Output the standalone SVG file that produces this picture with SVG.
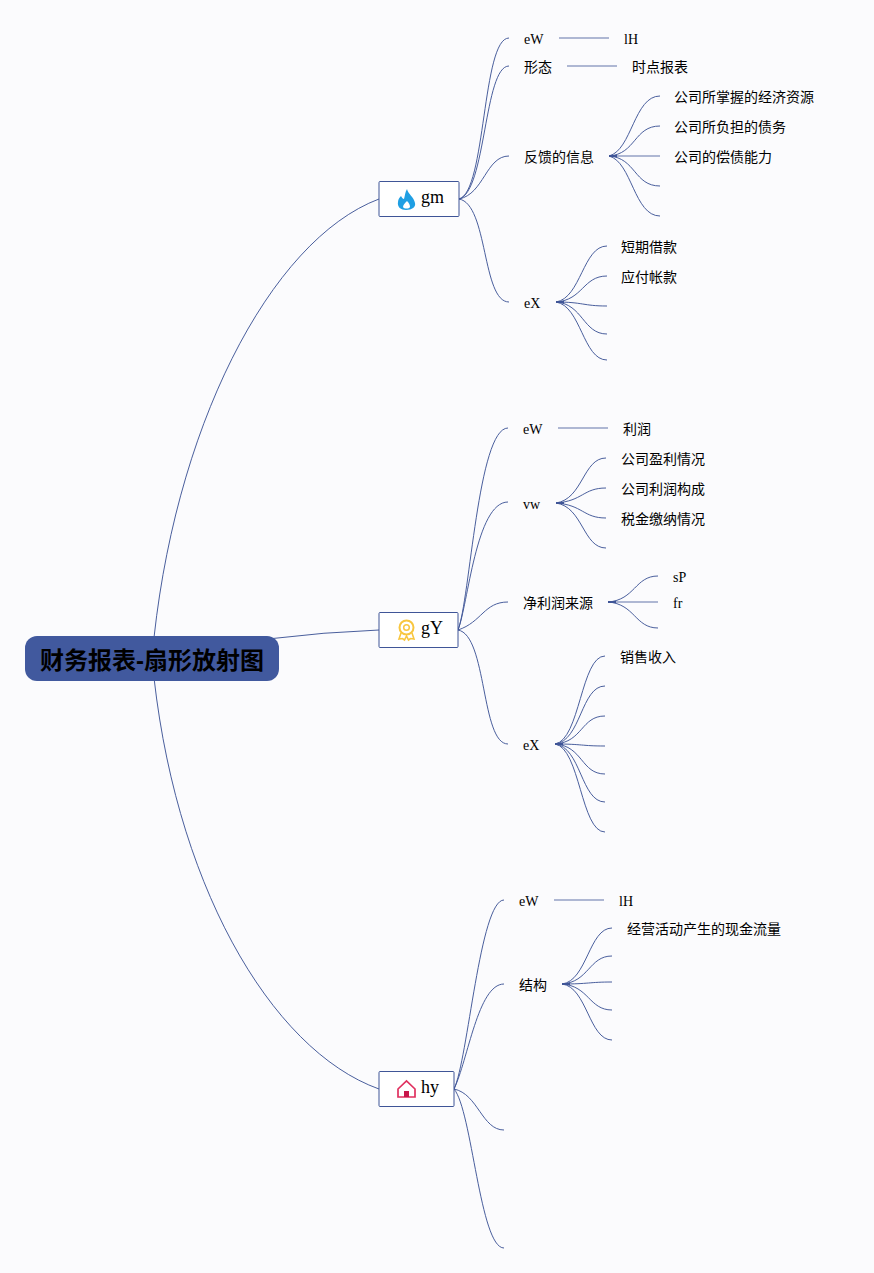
<svg xmlns="http://www.w3.org/2000/svg" width="874" height="1273" viewBox="0 0 874 1273">
<style>
.c{fill:none;stroke:#3f5597;stroke-width:.95}
.s{fill:none;stroke:#3f5597;stroke-width:1.500;stroke-opacity:.55}
.t{fill:none;stroke:#3f5597;stroke-width:2}
.n{fill:#fff;stroke:#3f5597;stroke-width:1}
text{font-family:"Liberation Serif","Noto Sans CJK SC",serif;font-size:14px;fill:#000}
.b{font-size:18px}
.r{font-family:"Liberation Sans","Noto Sans CJK SC",sans-serif;font-size:24px;font-weight:bold}
</style>
<rect width="874" height="1273" fill="#fbfbfd"/>
<g id="connectors">
<path class="c" d="M152 658C172 430 270 240 379 199"/>
<path class="c" d="M152 658C172 880 270 1050 379 1089"/>
<path class="c" d="M152 658Q270 634 379 630"/>
<path class="c" d="M459 199C486 192 482 38 509 38"/>
<path class="c" d="M459 199C486 192 484 66 509 66"/>
<path class="c" d="M459 199C484 194 486 156 509 156"/>
<path class="c" d="M459 199C488 204 482 302 509 302"/>
<path class="s" d="M559 38H609"/><path class="s" d="M567 66H617"/>
<path class="c" d="M609 156C632 150 634 96 660 96"/>
<path class="c" d="M609 156C636 154 634 126 660 126"/>
<path class="s" d="M609 156H660"/>
<path class="c" d="M609 156C636 158 634 186 660 186"/>
<path class="c" d="M609 156C632 162 634 216 660 216"/>
<path class="t" d="M609 156H617"/>
<path class="c" d="M556 302C581 298 583 246 607 246"/>
<path class="c" d="M556 302C583 300 583 276 607 276"/>
<path class="c" d="M556 302C583 302 583 306 607 306"/>
<path class="c" d="M556 302C583 304 583 334 607 334"/>
<path class="c" d="M556 302C581 306 583 360 607 360"/>
<path class="t" d="M556 302H564"/>
<path class="c" d="M458 630C470 600 478 428 508 428"/>
<path class="c" d="M458 630C468 605 476 502 508 502"/>
<path class="c" d="M458 630C482 622 484 602 508 602"/>
<path class="c" d="M458 630C487 635 481 744 508 744"/>
<path class="s" d="M558 428H608"/>
<path class="c" d="M556 503C583 499 583 458 606 458"/>
<path class="c" d="M556 503C583 501 583 488 606 488"/>
<path class="c" d="M556 503C583 505 583 518 606 518"/>
<path class="c" d="M556 503C583 507 583 548 606 548"/>
<path class="t" d="M556 503H564"/>
<path class="c" d="M608 602C635 600 635 576 658 576"/>
<path class="s" d="M608 602H658"/>
<path class="c" d="M608 602C635 604 635 628 658 628"/>
<path class="t" d="M608 602H616"/>
<path class="c" d="M555 744C580 740 581 656 605 656"/>
<path class="c" d="M555 744C581 741 581 686 605 686"/>
<path class="c" d="M555 744C583 742 581 716 605 716"/>
<path class="c" d="M555 744C583 744 581 746 605 746"/>
<path class="c" d="M555 744C583 746 581 774 605 774"/>
<path class="c" d="M555 744C581 747 581 802 605 802"/>
<path class="c" d="M555 744C580 748 581 832 605 832"/>
<path class="t" d="M555 744H563"/>
<path class="c" d="M454 1089C468 1060 480 900 504 900"/>
<path class="c" d="M454 1089C468 1060 478 984 504 984"/>
<path class="c" d="M454 1089C478 1094 482 1130 504 1130"/>
<path class="c" d="M454 1089C472 1110 480 1248 504 1248"/>
<path class="s" d="M554 900H604"/>
<path class="c" d="M562 984C587 981 589 928 612 928"/>
<path class="c" d="M562 984C589 982 589 956 612 956"/>
<path class="c" d="M562 984C589 984 589 982 612 982"/>
<path class="c" d="M562 984C589 986 589 1010 612 1010"/>
<path class="c" d="M562 984C587 987 589 1040 612 1040"/>
<path class="t" d="M562 984H570"/>
</g>
<g id="root"><rect x="25" y="636" width="254" height="45" rx="12" fill="#41599e"/><text class="r" x="152" y="669" text-anchor="middle">财务报表-扇形放射图</text></g>
<g id="gm"><rect class="n" x="379" y="181.500" width="80" height="35" rx="1"/>
<path d="M407 189C408 194 414 197 415 203C416 207 412 210 406 210C401 210 397 207 398 202C398 199 400 197 401 196C402 198 403 199 404 199C405 196 405 192 407 189Z" fill="#1f9fe3"/><path d="M407 201C409 203 410 205 410 207C409 209 404 209 403 207C403 205 405 203 407 201Z" fill="#fff"/>
<text class="b" x="421" y="203">gm</text></g>
<g id="gY"><rect class="n" x="379" y="612.500" width="79" height="35" rx="1"/>
<circle cx="406.500" cy="627.500" r="7" fill="none" stroke="#f8c63f" stroke-width="2"/><circle cx="406.500" cy="627.500" r="2.800" fill="none" stroke="#f8c63f" stroke-width="1.500"/>
<path d="M401 633L399 639L402.500 638.500L404.500 640L406.500 636L408.500 640L410.500 638.500L414 639L412 633" fill="none" stroke="#f8c63f" stroke-width="1.600"/>
<text class="b" x="421" y="634">gY</text></g>
<g id="hy"><rect class="n" x="379" y="1071.500" width="75" height="35" rx="1"/>
<path d="M398 1089L406.500 1081L415 1089V1097H398Z" fill="none" stroke="#e0305f" stroke-width="1.700"/><rect x="404" y="1091" width="5" height="6" fill="#c8164a"/>
<text class="b" x="421" y="1093">hy</text></g>
<g id="labels">
<text x="524" y="44">eW</text><text x="624" y="44">lH</text>
<text x="524" y="72">形态</text><text x="632" y="72">时点报表</text>
<text x="524" y="162">反馈的信息</text>
<text x="674" y="102">公司所掌握的经济资源</text><text x="674" y="132">公司所负担的债务</text><text x="674" y="162">公司的偿债能力</text>
<text x="524" y="308">eX</text><text x="621" y="252">短期借款</text><text x="621" y="282">应付帐款</text>
<text x="523" y="434">eW</text><text x="623" y="434">利润</text>
<text x="523" y="509">vw</text><text x="621" y="464">公司盈利情况</text><text x="621" y="494">公司利润构成</text><text x="621" y="524">税金缴纳情况</text>
<text x="523" y="608">净利润来源</text><text x="673" y="582">sP</text><text x="673" y="608">fr</text>
<text x="523" y="750">eX</text><text x="620" y="662">销售收入</text>
<text x="519" y="906">eW</text><text x="619" y="906">lH</text>
<text x="519" y="990">结构</text><text x="627" y="934">经营活动产生的现金流量</text>
</g>
</svg>
